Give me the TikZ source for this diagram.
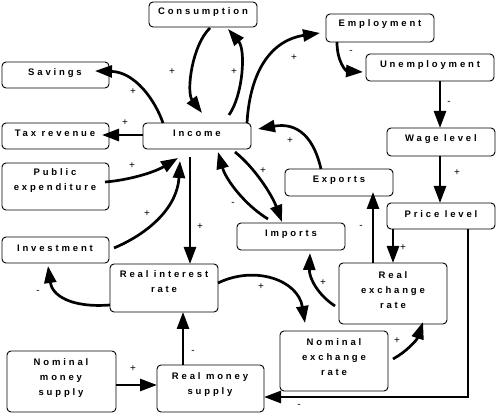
\documentclass[tikz,border=0pt]{standalone}
\usepackage{fontspec}
\setmainfont{Liberation Sans}
\newfontfamily\boxfont{Liberation Sans}[LetterSpace=30]
\usetikzlibrary{arrows.meta}
\begin{document}
\begin{tikzpicture}[x=1pt,y=-1pt,
  box/.style={draw, rounded corners=4pt, line width=0.9pt, inner sep=0pt, outer sep=0pt},
  txt/.style={font=\boxfont\bfseries\fontsize{9.5}{15}\selectfont, align=center, inner sep=0pt},
  arr/.style={line width=2.7pt, -{Triangle[length=17pt,width=12pt]}},
  sign/.style={font=\fontsize{10}{12}\selectfont, inner sep=0pt}]
\path[use as bounding box, fill=white] (0,0) rectangle (496,414);

% boxes
\node[box, minimum width=108pt, minimum height=25pt] (cons) at (203,14.5) {};
\node[box, minimum width=107pt, minimum height=26pt] (sav) at (55.5,75) {};
\node[box, minimum width=107pt, minimum height=26pt] (tax) at (55.5,136) {};
\node[box, minimum width=108pt, minimum height=26pt] (inc) at (197,136) {};
\node[box, minimum width=107pt, minimum height=47pt] (pub) at (55.5,186.5) {};
\node[box, minimum width=107pt, minimum height=26pt] (inv) at (55.5,250) {};
\node[box, minimum width=108pt, minimum height=48pt] (rir) at (164,288) {};
\node[box, minimum width=109pt, minimum height=61pt] (nms) at (61.5,381.5) {};
\node[box, minimum width=107pt, minimum height=47pt] (rms) at (210.5,388.5) {};
\node[box, minimum width=108pt, minimum height=60pt] (ner) at (334,361) {};
\node[box, minimum width=108pt, minimum height=61pt] (rer) at (393,293.5) {};
\node[box, minimum width=108pt, minimum height=27pt] (imp) at (291,236.5) {};
\node[box, minimum width=108pt, minimum height=27pt] (exp) at (339,182.5) {};
\node[box, minimum width=108pt, minimum height=28pt] (wage) at (441,142) {};
\node[box, minimum width=108pt, minimum height=26pt] (price) at (441,216) {};
\node[box, minimum width=108pt, minimum height=28pt] (emp) at (380,28) {};
\node[box, minimum width=128pt, minimum height=27pt] (unemp) at (430,67.5) {};

% texts
\node[txt] (tcons) at (203,12) {Consumption};
\node[txt] (tsav) at (55,73) {Savings};
\node[txt] (ttax) at (55,133) {Tax revenue};
\node[txt] (tinc) at (197,133) {Income};
\node[txt] (tpub) at (55,181) {Public\\expenditure};
\node[txt] (tinv) at (55,248) {Investment};
\node[txt] (trir) at (164,282) {Real interest\\rate};
\node[txt] (tnms) at (61,378.5) {Nominal\\money\\supply};
\node[txt] (trms) at (210,384.5) {Real money\\supply};
\node[txt] (tner) at (334,357) {Nominal\\exchange\\rate};
\node[txt] (trer) at (393,290) {Real\\exchange\\rate};
\node[txt] (timp) at (291,234) {Imports};
\node[txt] (texp) at (339,180) {Exports};
\node[txt] (twage) at (441,139) {Wage level};
\node[txt] (tprice) at (441,214) {Price level};
\node[txt] (temp) at (380,24.5) {Employment};
\node[txt] (tunemp) at (430,65) {Unemployment};

% connectors
\draw[arr] ([xshift=32pt,yshift=8pt]inc.north) .. controls (243,95) and (246,50) .. ([xshift=25pt,yshift=-2pt]cons.south);
\draw[arr] ([xshift=7pt,yshift=-1pt]cons.south) .. controls (192,45) and (186,92) .. ([xshift=5pt,yshift=10pt]inc.north);
\draw[arr] ([xshift=-34pt]inc.north) .. controls (155,100) and (135,72) .. ([xshift=-14pt,yshift=4pt]sav.east);
\draw[arr] ([yshift=1pt]inc.west) -- ([xshift=-7pt,yshift=1pt]tax.east);
\draw[arr] ([xshift=-4pt,yshift=4.5pt]pub.east) .. controls (130,180) and (155,172) .. ([xshift=-19pt,yshift=-9pt]inc.south);
\draw[arr] ([xshift=5pt,yshift=2pt]inv.east) .. controls (145,235) and (177,210) .. ([xshift=-17pt,yshift=-12pt]inc.south);
\draw[arr] ([xshift=-7pt,yshift=-8pt]inc.south) -- ([xshift=26pt]rir.north);
\draw[arr] ([yshift=-17pt]rir.west) .. controls (70,308) and (52,295) .. ([xshift=-7.5pt,yshift=-3pt]inv.south);
\draw[arr] ([xshift=-27.5pt]rms.north) -- ([xshift=19pt]rir.south);
\draw[arr] ([yshift=-3.5pt]nms.east) -- ([yshift=3.5pt]rms.west);
\draw[arr] ([xshift=27pt]price.south) |- ([yshift=-8.5pt]rms.east);
\draw[arr] ([yshift=5pt]rir.east) .. controls (255,265) and (298,280) .. ([xshift=-29pt,yshift=8pt]ner.north);
\draw[arr] ([xshift=5pt,yshift=2pt]ner.east) .. controls (406,352) and (417,340) .. ([xshift=30pt,yshift=2pt]rer.south);
\draw[arr] ([xshift=-4pt,yshift=-12.5pt]rer.west) .. controls (318,295) and (309,278) .. ([xshift=19pt,yshift=-3pt]imp.south);
\draw[arr] ([xshift=-20pt]rer.north) -- ([xshift=34pt,yshift=4pt]exp.south);
\draw[arr] ([xshift=-48pt]price.south) -- (rer.north);
\draw[arr] ([xshift=-1pt]wage.south) -- ([xshift=-1pt]price.north);
\draw[arr] ([xshift=10pt]unemp.south) -- ([xshift=-1pt]wage.north);
\draw[arr] ([xshift=-43pt]emp.south) .. controls (337,62) and (346,71) .. ([xshift=-3pt,yshift=-4.5pt]unemp.west);
\draw[arr] ([xshift=50pt]inc.north) .. controls (250,70) and (272,40) .. ([xshift=-6pt,yshift=-5pt]emp.west);
\draw[arr] ([xshift=-18pt]exp.north) .. controls (314,138) and (298,122) .. ([xshift=7pt,yshift=7pt]inc.east);
\draw[arr] ([xshift=38pt,yshift=-3pt]inc.south) .. controls (255,168) and (272,195) .. ([xshift=-9pt,yshift=1pt]imp.north);
\draw[arr] ([xshift=-23pt,yshift=4pt]imp.north) .. controls (245,205) and (226,180) .. ([xshift=21pt,yshift=-3pt]inc.south);

% signs
\node[sign] (s1) at (234,72) {+};
\node[sign] (s2) at (172,72) {+};
\node[sign] (s3) at (133,92) {+};
\node[sign] (s4) at (125,123) {+};
\node[sign] (s5) at (132,166) {+};
\node[sign] (s6) at (147,214) {+};
\node[sign] (s7) at (200,227) {+};
\node[sign] (s8) at (38,292) {-};
\node[sign] (s9) at (193,352) {-};
\node[sign] (s10) at (133,369) {+};
\node[sign] (s11) at (299,406) {-};
\node[sign] (s12) at (261,287) {+};
\node[sign] (s13) at (397,341) {+};
\node[sign] (s14) at (323,283) {+};
\node[sign] (s15) at (361,227) {-};
\node[sign] (s16) at (403,248) {+};
\node[sign] (s17) at (457,173) {+};
\node[sign] (s18) at (449,103) {-};
\node[sign] (s19) at (351,52) {-};
\node[sign] (s20) at (294,58) {+};
\node[sign] (s21) at (290,141) {+};
\node[sign] (s22) at (263,171) {+};
\node[sign] (s23) at (233,204) {-};
\end{tikzpicture}
\end{document}
